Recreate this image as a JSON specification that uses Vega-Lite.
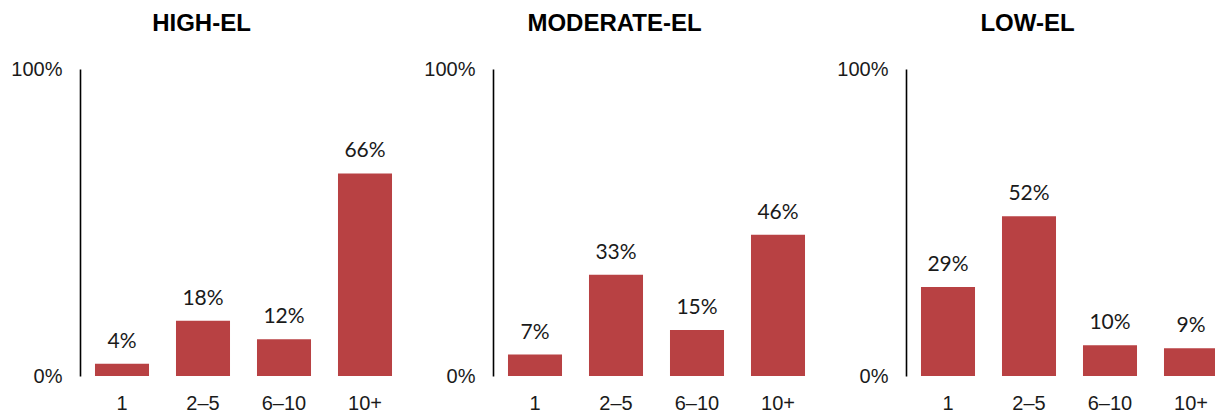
{
  "$schema": "https://vega.github.io/schema/vega-lite/v6.json",
  "padding": {"left": 10, "top": 12, "right": 0, "bottom": 0},
  "background": "white",
  "data": {"values": [
    {"group": "HIGH-EL", "bucket": "1", "share": 0.04},
    {"group": "HIGH-EL", "bucket": "2–5", "share": 0.18},
    {"group": "HIGH-EL", "bucket": "6–10", "share": 0.12},
    {"group": "HIGH-EL", "bucket": "10+", "share": 0.66},
    {"group": "MODERATE-EL", "bucket": "1", "share": 0.07},
    {"group": "MODERATE-EL", "bucket": "2–5", "share": 0.33},
    {"group": "MODERATE-EL", "bucket": "6–10", "share": 0.15},
    {"group": "MODERATE-EL", "bucket": "10+", "share": 0.46},
    {"group": "LOW-EL", "bucket": "1", "share": 0.29},
    {"group": "LOW-EL", "bucket": "2–5", "share": 0.52},
    {"group": "LOW-EL", "bucket": "6–10", "share": 0.10},
    {"group": "LOW-EL", "bucket": "10+", "share": 0.09}
  ]},
  "spacing": 16,
  "hconcat": [
    {
      "title": {"text": "HIGH-EL", "dx": -42},
      "width": 327, "height": 307,
      "transform": [{"filter": "datum.group === 'HIGH-EL'"}],
      "encoding": {
        "x": {"field": "bucket", "type": "nominal", "sort": ["1", "2–5", "6–10", "10+"], "scale": {"paddingInner": 0.333, "paddingOuter": 0.185}, "axis": {"title": null, "domain": false, "ticks": false, "labelAngle": 0, "labelPadding": 17}},
        "y": {"field": "share", "type": "quantitative", "scale": {"domain": [0, 1]}, "axis": {"title": null, "values": [0, 1], "format": ".0%", "ticks": false, "grid": false, "labelPadding": 18}}
      },
      "layer": [
        {"mark": {"type": "bar", "color": "#B84143"}},
        {"mark": {"type": "text", "dy": -16, "baseline": "alphabetic", "font": "Lato", "fontSize": 21, "color": "#1a1a1a"}, "encoding": {"text": {"field": "share", "format": ".0%"}}}
      ]
    },
    {
      "title": {"text": "MODERATE-EL", "dx": -42},
      "width": 327, "height": 307,
      "transform": [{"filter": "datum.group === 'MODERATE-EL'"}],
      "encoding": {
        "x": {"field": "bucket", "type": "nominal", "sort": ["1", "2–5", "6–10", "10+"], "scale": {"paddingInner": 0.333, "paddingOuter": 0.185}, "axis": {"title": null, "domain": false, "ticks": false, "labelAngle": 0, "labelPadding": 17}},
        "y": {"field": "share", "type": "quantitative", "scale": {"domain": [0, 1]}, "axis": {"title": null, "values": [0, 1], "format": ".0%", "ticks": false, "grid": false, "labelPadding": 18}}
      },
      "layer": [
        {"mark": {"type": "bar", "color": "#B84143"}},
        {"mark": {"type": "text", "dy": -16, "baseline": "alphabetic", "font": "Lato", "fontSize": 21, "color": "#1a1a1a"}, "encoding": {"text": {"field": "share", "format": ".0%"}}}
      ]
    },
    {
      "title": {"text": "LOW-EL", "dx": -42},
      "width": 327, "height": 307,
      "transform": [{"filter": "datum.group === 'LOW-EL'"}],
      "encoding": {
        "x": {"field": "bucket", "type": "nominal", "sort": ["1", "2–5", "6–10", "10+"], "scale": {"paddingInner": 0.333, "paddingOuter": 0.185}, "axis": {"title": null, "domain": false, "ticks": false, "labelAngle": 0, "labelPadding": 17}},
        "y": {"field": "share", "type": "quantitative", "scale": {"domain": [0, 1]}, "axis": {"title": null, "values": [0, 1], "format": ".0%", "ticks": false, "grid": false, "labelPadding": 18}}
      },
      "layer": [
        {"mark": {"type": "bar", "color": "#B84143"}},
        {"mark": {"type": "text", "dy": -16, "baseline": "alphabetic", "font": "Lato", "fontSize": 21, "color": "#1a1a1a"}, "encoding": {"text": {"field": "share", "format": ".0%"}}}
      ]
    }
  ],
  "config": {
    "view": {"stroke": null},
    "font": "Liberation Sans",
    "title": {"font": "Liberation Sans", "fontSize": 24, "fontWeight": "bold", "color": "#000", "anchor": "middle", "offset": 23},
    "axis": {"labelFont": "Liberation Sans", "labelFontSize": 20, "labelColor": "#1a1a1a", "domainColor": "#000", "domainWidth": 1.6}
  }
}
